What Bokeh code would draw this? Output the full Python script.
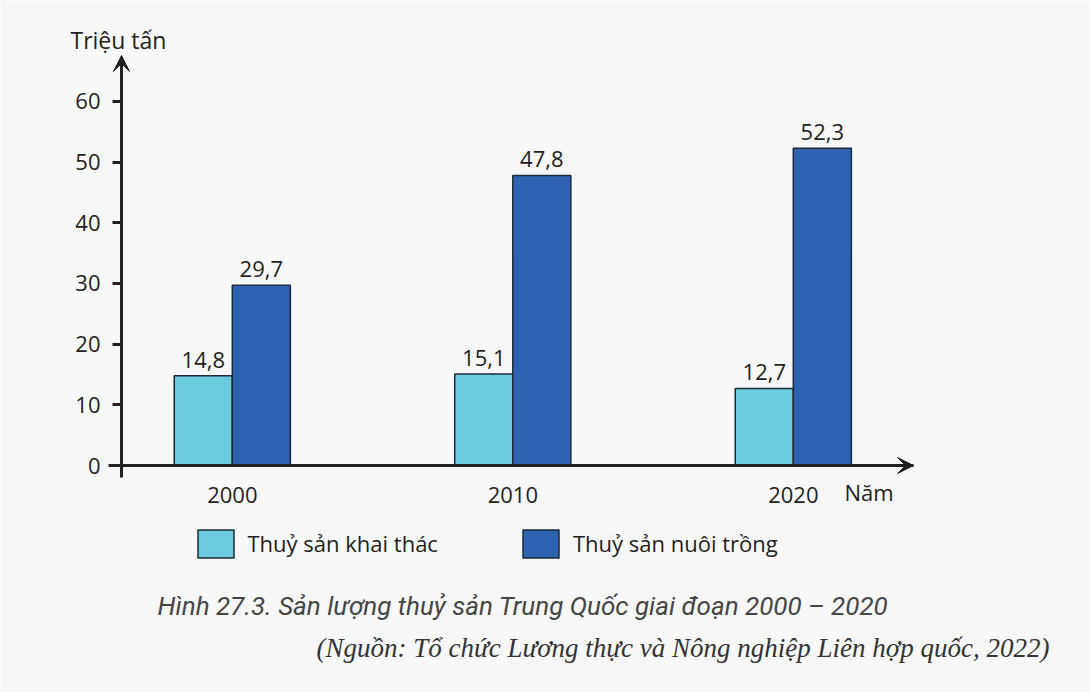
from bokeh.plotting import figure
from bokeh.models import (Range1d, FixedTicker, Label, LabelSet, Arrow, VeeHead,
                          Legend, LegendItem, ColumnDataSource, LinearAxis)
from bokeh.embed import file_html
from bokeh.resources import INLINE
from bokeh.core.properties import value

# ---- data ----
years = ["2000", "2010", "2020"]
khai_thac = [14.8, 15.1, 12.7]      # Thuỷ sản khai thác
nuoi_trong = [29.7, 47.8, 52.3]     # Thuỷ sản nuôi trồng
y_ticks = [0, 10, 20, 30, 40, 50, 60]
series_names = ["Thuỷ sản khai thác", "Thuỷ sản nuôi trồng"]
y_title = "Triệu tấn"
x_title = "Năm"
caption = "Hình 27.3. Sản lượng thuỷ sản Trung Quốc giai đoạn 2000 – 2020"
source_note = "(Nguồn: Tổ chức Lương thực và Nông nghiệp Liên hợp quốc, 2022)"

# ---- style ----
BG = "#f7f7f8"
INK = "#231f20"
C_LIGHT = "#6ccbdc"
C_DARK = "#2d63b0"
EDGE = "#1c2a3a"
FONT = "Open Sans"
FS = "22px"

W, H = 1090, 692

# page-pixel -> data helpers (frame covers the whole canvas)
def dx(px):
    return (px - 231.8) / 280.5

def dy(py):
    return (465 - py) / 6.067

p = figure(width=W, height=H, x_range=Range1d(dx(0), dx(W)),
           y_range=Range1d(dy(H), dy(0)),
           output_backend="svg", toolbar_location=None, title=None,
           x_axis_location=None, y_axis_location=None,
           min_border=0, min_border_left=0, min_border_right=0,
           min_border_top=0, min_border_bottom=0)
p.background_fill_color = BG
p.border_fill_color = BG
p.outline_line_color = None
p.grid.visible = False

idx = list(range(len(years)))
bw = 0.207
src = ColumnDataSource(dict(
    x1=[i - bw / 2 for i in idx], x2=[i + bw / 2 for i in idx],
    kt=khai_thac, nt=nuoi_trong,
    kt_lab=[f"{v:.1f}".replace(".", ",") for v in khai_thac],
    nt_lab=[f"{v:.1f}".replace(".", ",") for v in nuoi_trong],
))

r1 = p.vbar(x="x1", top="kt", width=bw, source=src, fill_color=C_LIGHT,
            line_color=EDGE, line_width=1.5)
r2 = p.vbar(x="x2", top="nt", width=bw, source=src, fill_color=C_DARK,
            line_color=EDGE, line_width=1.5)

for xcol, ycol, tcol in [("x1", "kt", "kt_lab"), ("x2", "nt", "nt_lab")]:
    p.add_layout(LabelSet(x=xcol, y=ycol, text=tcol, source=src,
                          text_align="center", text_baseline="alphabetic",
                          y_offset=8, text_font=value(FONT),
                          text_font_size=FS, text_color=INK))

# axes, placed at fixed locations inside the frame
ax = LinearAxis(fixed_location=0, bounds=(dx(108), dx(913)),
                ticker=FixedTicker(ticks=idx),
                major_label_overrides={i: y for i, y in zip(idx, years)},
                major_tick_out=0, major_tick_in=0,
                minor_tick_line_color=None,
                axis_line_width=3, axis_line_color=INK,
                major_label_standoff=21,
                major_label_text_font=FONT, major_label_text_font_size=FS,
                major_label_text_color=INK)
p.add_layout(ax, "below")

ay = LinearAxis(fixed_location=dx(121), bounds=(dy(477), dy(58)),
                ticker=FixedTicker(ticks=y_ticks),
                major_tick_out=9, major_tick_in=0,
                major_tick_line_width=3, major_tick_line_color=INK,
                minor_tick_line_color=None,
                axis_line_width=3, axis_line_color=INK,
                major_label_standoff=12,
                major_label_text_font=FONT, major_label_text_font_size=FS,
                major_label_text_color=INK)
p.add_layout(ay, "left")

# arrow heads
p.add_layout(Arrow(end=VeeHead(size=16, fill_color=INK, line_color=INK, line_width=1),
                   x_start=dx(121), y_start=dy(83), x_end=dx(121), y_end=dy(55),
                   line_color=INK, line_width=3))
p.add_layout(Arrow(end=VeeHead(size=16, fill_color=INK, line_color=INK, line_width=1),
                   x_start=dx(888), y_start=0, x_end=dx(913), y_end=0,
                   line_color=INK, line_width=3))

# axis titles
p.add_layout(Label(x=dx(70), y=dy(39), text=y_title, text_font=FONT,
                   text_font_size="23px", text_color=INK, text_baseline="alphabetic"))
p.add_layout(Label(x=dx(844), y=dy(491), text=x_title, text_font=FONT,
                   text_font_size=FS, text_color=INK, text_baseline="alphabetic"))

# legend (bar legend glyphs are inset by 10% of the glyph box)
legend = Legend(items=[LegendItem(label=series_names[0], renderers=[r1]),
                       LegendItem(label=series_names[1], renderers=[r2])],
                orientation="horizontal", location=(192.5, H - 560.5),
                glyph_width=45, glyph_height=35, label_standoff=10, spacing=80,
                padding=0, margin=0, border_line_color=None,
                background_fill_alpha=0, label_text_font=FONT,
                label_text_font_size=FS, label_text_color=INK,
                label_height=35)
p.add_layout(legend)

# caption
p.add_layout(Label(x=dx(157), y=dy(605), text=caption, text_font="Roboto",
                   text_font_style="italic", text_font_size="26px",
                   text_color="#454545", text_baseline="alphabetic"))
p.add_layout(Label(x=dx(316), y=dy(647), text=source_note,
                   text_font="Liberation Serif", text_font_style="italic",
                   text_font_size="27px", text_color="#333333",
                   text_baseline="alphabetic"))

html = file_html(p, INLINE)
html = html.replace("<body>", '<body style="background:#f7f7f8">', 1)
open("out.html", "w").write(html)
